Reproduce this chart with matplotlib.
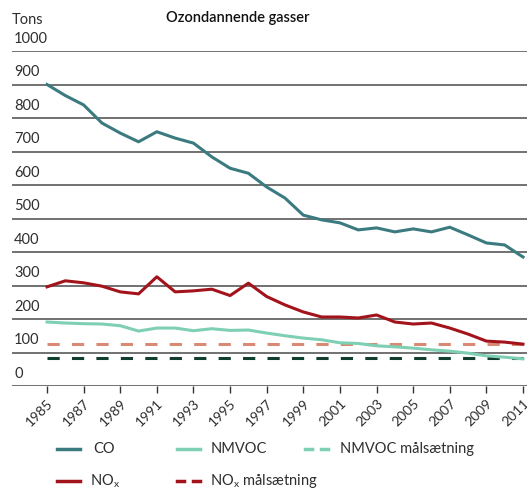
import matplotlib.pyplot as plt
from matplotlib.lines import Line2D

plt.rcParams['font.family'] = ['Lato', 'DejaVu Sans']

years = list(range(1985, 2012))
co = [900, 867, 839, 785, 755, 729, 759, 740, 725, 684, 650, 635, 594, 561,
      510, 496, 487, 466, 472, 460, 469, 460, 474, 451, 427, 421, 385]
nox = [296, 314, 308, 298, 281, 275, 326, 281, 284, 289, 270, 307, 267, 242,
       221, 206, 206, 203, 212, 191, 185, 188, 173, 155, 134, 131, 125]
nmvoc = [191, 188, 186, 185, 180, 164, 173, 173, 165, 171, 166, 167, 158, 150,
         143, 138, 129, 127, 120, 117, 113, 108, 104, 98, 90, 86, 81]
nox_target = 126
nmvoc_target = 84
yticks = list(range(0, 1001, 100))
xticks = list(range(1985, 2012, 2))

c_co = '#3b7b80'
c_nmvoc = '#7ecfb3'
c_nox = '#a3131b'
c_nox_t = '#d98a72'
c_nmvoc_t = '#113e30'
c_text = '#2e2e2e'

W, H = 527, 491
fig = plt.figure(figsize=(W / 100, H / 100), dpi=100)
# axes: x from 12px to 527px, y from 386px (0) to 51px (1000)
ax = fig.add_axes([12 / W, 1 - 386 / H, (W - 12) / W, (386 - 51) / H])
ax.set_xlim(1985 - 35 / 18.3, 2011 + 4 / 18.3)
ax.set_ylim(0, 1000)
for s in ax.spines.values():
    s.set_visible(False)

for v in yticks:
    ax.axhline(v, color='#4a4a4a', lw=1.1, zorder=1)
    ax.text(1985 - 33 / 18.3, v + 16, str(v), fontsize=10.5, color=c_text,
            va='bottom', ha='left')

ax.plot(years, co, color=c_co, lw=2.2, solid_joinstyle='round', zorder=3)
ax.plot(years, nmvoc, color=c_nmvoc, lw=2.2, solid_joinstyle='round', zorder=3)
ax.plot(years, nox, color=c_nox, lw=2.2, solid_joinstyle='round', zorder=3)
ax.plot([years[0], years[-1]], [nox_target, nox_target], color=c_nox_t, lw=2.2,
        dashes=(4, 4), zorder=2)
ax.plot([years[0], years[-1]], [nmvoc_target, nmvoc_target], color=c_nmvoc_t, lw=2.2,
        dashes=(4, 4), zorder=2)

ax.set_yticks([])
ax.set_xticks(xticks)
ax.set_xticklabels([str(x) for x in xticks], rotation=45, ha='right',
                   rotation_mode='anchor', fontsize=10, color=c_text)
ax.tick_params(axis='x', length=5, width=1, color='#333333', pad=3)

fig.text(238 / W, 1 - 18 / H, 'Ozondannende gasser', ha='center', va='center',
         fontsize=10.5, fontweight='semibold', color='#111111')
fig.text(12 / W, 1 - 20 / H, 'Tons', ha='left', va='center', fontsize=10.5,
         color=c_text)

# legend drawn by hand
legend_items = [
    (57, 449, c_co, '-', 'CO', 93),
    (177, 449, c_nmvoc, '-', 'NMVOC', 211),
    (305, 449, c_nmvoc, '--', 'NMVOC målsætning', 340),
    (57, 481, c_nox, '-', r'NO$_{\mathregular{x}}$', 90),
    (177, 481, c_nox, '--', r'NO$_{\mathregular{x}}$ målsætning', 210),
]
for x0, yy, col, ls, label, tx in legend_items:
    yf = 1 - yy / H
    if ls == '-':
        fig.add_artist(Line2D([x0 / W, (x0 + 23) / W], [yf, yf], color=col, lw=2.5))
    else:
        fig.add_artist(Line2D([x0 / W, (x0 + 7) / W], [yf, yf], color=col, lw=2.5))
        fig.add_artist(Line2D([(x0 + 16) / W, (x0 + 23) / W], [yf, yf], color=col, lw=2.5))
    fig.text(tx / W, yf, label, ha='left', va='center', fontsize=10.5, color=c_text)

fig.savefig('out.png', dpi=100)
